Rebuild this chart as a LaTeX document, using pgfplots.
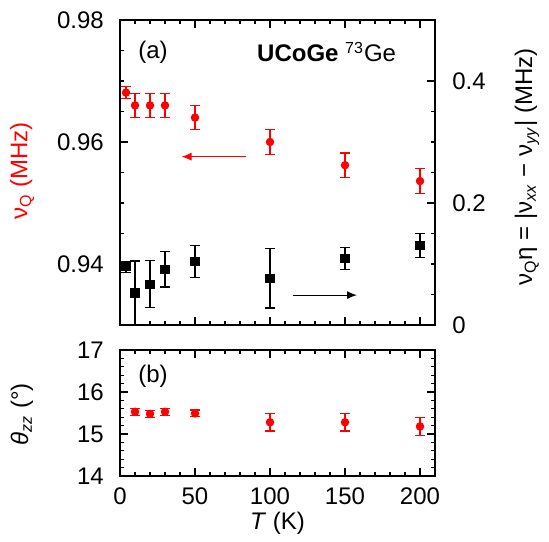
\documentclass[border=0pt]{standalone}
\usepackage{pgfplots}
\pgfplotsset{compat=1.18}
\usepackage{pgfplotstable}
\usepackage{fontspec}
\setmainfont{Liberation Sans}
\usetikzlibrary{arrows.meta}

\newcommand{\fs}{\fontsize{12}{14.4}\selectfont}

\pgfplotstableread{
T nu err
4 0.9681 0.0010
10 0.9660 0.0020
20 0.9660 0.0020
30 0.9660 0.0020
50 0.9640 0.0020
100 0.9600 0.0020
150 0.9562 0.0020
200 0.9536 0.0020
}\nuQ

\pgfplotstableread{
T eta err
4 0.0956 0.0090
10 0.0520 0.0530
20 0.0667 0.0385
30 0.0913 0.0290
50 0.1044 0.0260
100 0.0765 0.0486
150 0.1090 0.0186
200 0.1306 0.0197
}\etaQ

\pgfplotstableread{
T th err
10 15.53 0.08
20 15.48 0.08
30 15.53 0.08
50 15.49 0.08
100 15.28 0.21
150 15.28 0.21
200 15.18 0.21
}\theta

\pgfplotsset{
  every axis/.append style={
    font=\fs,
    /pgf/number format/assume math mode=true,
    scale only axis,
    width=157.5pt,
    xmin=0, xmax=210,
    tick align=inside,
    major tick length=4pt,
    minor tick length=2pt,
    line width=0.6pt,
    every tick/.style={line width=0.6pt, black},
  },
  errstyle/.style={
    error bars/.cd, y dir=both, y explicit,
    error bar style={line width=0.6pt},
    error mark options={rotate=90, mark size=2.6pt, line width=0.6pt},
  },
}

\begin{document}
\begin{tikzpicture}
\useasboundingbox (0pt,0pt) rectangle (274.5pt,270.5pt);

% top panel, left axis
\begin{axis}[
  at={(60pt,108pt)}, anchor=south west,
  height=152.5pt,
  ymin=0.93, ymax=0.98,
  xtick={0,50,...,200}, minor x tick num=4, xticklabels={},
  xtick pos=both,
  ytick={0.94,0.96,0.98}, minor y tick num=3, ytick pos=left,
  yticklabel style={font=\fs, xshift=-4.5pt, /pgf/number format/.cd, fixed, fixed zerofill, precision=2},
  ylabel={\color{red}ν\textsubscript{Q} (MHz)},
  ylabel style={font=\fs, at={(axis description cs:-0.311,0.505)}, anchor=center},
]
\addplot[red, only marks, mark=*, mark size=1.8pt, errstyle]
  table[x=T, y=nu, y error=err]{\nuQ};
\draw[red, line width=0.6pt, -{Latex[length=5pt,width=4pt]}] (axis cs:84,0.9576) -- (axis cs:41,0.9576);
\node[anchor=west, font=\fs] at (axis description cs:0.035,0.895) {(a)};
\node[anchor=center, font=\fs] at (axis description cs:0.656,0.895) {\textbf{UCoGe} \textsuperscript{73}Ge};
\end{axis}

% top panel, right axis
\begin{axis}[
  at={(60pt,108pt)}, anchor=south west,
  height=152.5pt,
  ymin=0, ymax=0.5,
  axis x line=none, axis y line*=right,
  ytick={0,0.2,0.4}, minor y tick num=3,
  yticklabel style={font=\fs, xshift=5pt},
  ylabel={ν\textsubscript{Q}η = |ν\textsubscript{\textit{xx}} − ν\textsubscript{\textit{yy}}| (MHz)},
  ylabel style={font=\fs, at={(axis description cs:1.292,0.518)}, anchor=center, rotate=0},
]
\addplot[black, only marks, mark=square*, mark size=2.1pt, errstyle]
  table[x=T, y=eta, y error=err]{\etaQ};
\draw[black, line width=0.6pt, -{Latex[length=5pt,width=4pt]}] (axis cs:115,0.049) -- (axis cs:158,0.049);
\end{axis}

% bottom panel
\begin{axis}[
  at={(60pt,32.5pt)}, anchor=south west,
  height=63pt,
  ymin=14, ymax=17,
  xtick={0,50,...,200}, minor x tick num=4, xtick pos=both,
  ytick={14,15,16,17}, minor y tick num=4, ytick pos=both,
  yticklabel pos=left, xticklabel pos=bottom,
  xticklabel style={font=\fs, yshift=-2pt},
  yticklabel style={font=\fs, xshift=-4.5pt},
  xlabel={\textit{T} (K)},
  xlabel style={font=\fs, at={(axis description cs:0.5,-0.373)}, anchor=center},
  ylabel={\textit{θ}\textsubscript{\textit{zz}} (°)},
  ylabel style={font=\fs, at={(axis description cs:-0.311,0.49)}, anchor=center},
]
\addplot[red, only marks, mark=*, mark size=1.8pt, errstyle]
  table[x=T, y=th, y error=err]{\theta};
\node[anchor=west, font=\fs] at (axis description cs:0.035,0.788) {(b)};
\end{axis}
\end{tikzpicture}
\end{document}
